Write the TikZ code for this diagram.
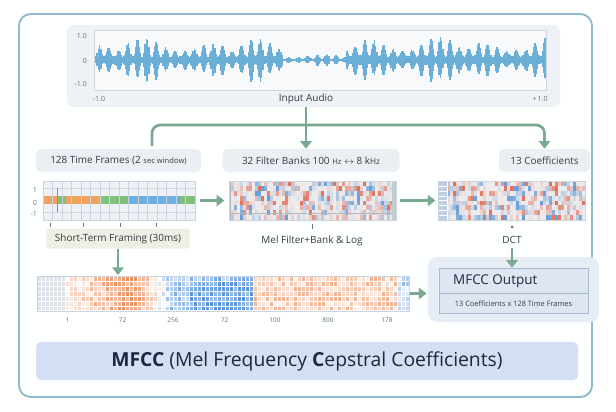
\documentclass[tikz,border=0pt]{standalone}
\usepackage{fontspec}
\setmainfont{Open Sans}
\usetikzlibrary{arrows.meta}

\definecolor{framerim}{HTML}{8FBACB}
\definecolor{panelgray}{HTML}{EEF1F5}
\definecolor{taggray}{HTML}{EBEEF3}
\definecolor{inkgray}{HTML}{353C47}
\definecolor{axisgray}{HTML}{6B737D}
\definecolor{gridgray}{HTML}{CDD4DD}
\definecolor{flowgreen}{HTML}{79AA91}
\definecolor{waveblue}{HTML}{6BAED6}
\definecolor{beige}{HTML}{EFEEE4}
\definecolor{titleblue}{HTML}{D5DFF3}
\definecolor{navy}{HTML}{1D2742}
\definecolor{bandorange}{HTML}{F2A25E}
\definecolor{bandgreen}{HTML}{80BE7C}
\definecolor{bandblue}{HTML}{6EB0E3}
\definecolor{heatred}{HTML}{DF5E45}
\definecolor{heatblue}{HTML}{4F8FD6}
\definecolor{heatbg}{HTML}{EDEBEC}
\definecolor{heatorange}{HTML}{EA8A55}
\definecolor{outfill}{HTML}{E7EDF4}
\definecolor{outbox}{HTML}{DEE6F1}
\definecolor{outrim}{HTML}{A7B9CF}

\begin{document}
\begin{tikzpicture}[x=0.03cm, y=-0.03cm, font=\fontsize{8.5}{10}\selectfont,
    sized/.style 2 args={minimum width=#1*\pxlen, minimum height=#2*\pxlen, inner sep=0pt},
    panel/.style={fill=panelgray, rounded corners=6pt},
    tag/.style={fill=taggray, rounded corners=5pt, text=inkgray},
    plotbox/.style={draw=gridgray, line width=0.4pt},
    flow/.style={draw=flowgreen, line width=2.3pt, -{Triangle[width=9.5pt,length=6.5pt]}},
    axnum/.style={font=\fontsize{6}{7}\selectfont, text=axisgray},
    wave/.style={draw=waveblue, line width=1.3pt}]
    \def\pxlen{0.03cm}

    \useasboundingbox[fill=white] (0,0) rectangle (616,411);
    \draw[framerim, line width=1.6pt, rounded corners=10pt, fill=white!97!panelgray] (19,14) rectangle (592,397);

    \begin{scope}
        \node[panel, sized={493}{82}] (audio) at (313.5,66) {};
        \node[sized={452}{60}, fill=white!60!panelgray, plotbox] (wave) at (320,60) {};
        \node[axnum, anchor=east] at (91,36) {1.0};
        \node[axnum, anchor=east] at (91,61) {0};
        \node[axnum, anchor=east] at (91,84) {-1.0};
        \node[axnum] at (99,99) {-1.0};
        \node[axnum] at (540,99) {+\,1.0};
        \node[text=inkgray] (input) at (306,99) {Input Audio};
        \pgfmathsetseed{42}
        \foreach \i in {0,...,374}{
            \pgfmathsetmacro\xx{96+1.2*\i}
            \pgfmathsetmacro\env{(\xx<283)*1+and(\xx>=283,\xx<346)*0.3+(\xx>=346)*1.05}
            \pgfmathsetmacro\pk{abs(sin(\xx*19))^3*(0.25+0.75*abs(sin(\xx*3.1)*sin(\xx*1.7+40)))}
            \pgfmathsetmacro\up{\env*(2.5+1.5*rnd+20*\pk)}
            \pgfmathsetmacro\dn{\up*(0.75+0.35*abs(sin(\xx*5.3)))}
            \draw[wave] (\xx,60-\up) -- (\xx,60+\dn);
        }
    \end{scope}

    \begin{scope}
        \node[tag, sized={165}{23}] (framesLbl) at (118.5,160.5) {128 Time Frames (2 {\fontsize{6.5}{8}\selectfont sec window)}};
        \node[tag, sized={177}{23}] (banksLbl) at (311,160.5) {32 Filter Banks 100 {\fontsize{6.5}{8}\selectfont Hz} $\leftrightarrow$ 8 k{\fontsize{7}{8}\selectfont Hz}};
        \node[tag, sized={91}{23}] (coefLbl) at (544.5,160.5) {13 Coefficients};
    \end{scope}

    \begin{scope}
        \node[sized={152}{39}, fill=panelgray] (frames) at (119,200.5) {};
        \fill[bandorange] (42.7,196) rectangle (57.3,204.3);
        \fill[bandgreen] (57.3,196) rectangle (66,204.3);
        \fill[bandorange] (66,196) rectangle (102,204.3);
        \fill[bandgreen] (102,196) rectangle (129.3,204.3);
        \fill[bandblue] (129.3,196) rectangle (180,204.3);
        \fill[bandgreen] (180,196) rectangle (195,204.3);
        \foreach \k in {0,...,16}
            \draw[gridgray, line width=0.3pt] (42.7+9.53*\k,181) -- (42.7+9.53*\k,220);
        \foreach \yy in {188,212}
            \draw[gridgray, line width=0.3pt] (42.7,\yy) -- (195,\yy);
        \draw[red!50!gridgray, line width=0.3pt] (57.3,188) -- (57.3,212);
        \draw[plotbox] (frames.north west) rectangle (frames.south east);
        \node[axnum, anchor=east] at (41,190) {1};
        \node[axnum, anchor=east] at (41,202.5) {0};
        \node[axnum, anchor=east] at (41,214) {-1};
        \foreach \tx in {50.7,83,120.7,156}
            \draw[axisgray, line width=0.4pt] (\tx,223) -- (\tx,227);
        \node[fill=beige, rounded corners=2pt, sized={143}{20}, text=inkgray] (framing) at (118,238.5) {Short-Term Framing (30ms)};
    \end{scope}

    \begin{scope}
        \node[sized={167}{39}] (mel) at (312.7,200.5) {};
        \foreach \c in {0,...,54}{
            \foreach \r in {0,...,7}{
                \pgfmathsetmacro\v{rand}
                \pgfmathtruncatemacro\p{min(85,95*abs(\v)^2.5)}
                \ifdim\v pt>0pt\def\hue{heatred}\else\def\hue{heatblue}\fi
                \fill[fill=\hue!\p!heatbg] (231+3*\c,181+4.875*\r) rectangle ++(3,4.875);
            }
        }
        \fill[gridgray!70!axisgray] (229.2,181) rectangle (231,220);
        \fill[gridgray!80!bandgreen] (392,181) rectangle (396,220);
        \draw[gridgray!70!axisgray, line width=0.3pt] (231,213) -- (392,213);
        \draw[plotbox] (mel.north west) rectangle (mel.south east);
        \draw[axisgray, line width=0.4pt] (312,224) -- (312,229);
        \node[text=inkgray] (melLbl) at (312,241) {Mel Filter+Bank \& Log};
    \end{scope}

    \begin{scope}
        \node[sized={147}{39}] (dct) at (511.5,200.5) {};
        \foreach \c in {0,...,45}{
            \foreach \r in {0,...,7}{
                \pgfmathsetmacro\v{rand}
                \pgfmathtruncatemacro\p{min(85,100*abs(\v)^2.3)}
                \ifdim\v pt>0pt\def\hue{heatred}\else\def\hue{heatblue}\fi
                \fill[fill=\hue!\p!heatbg] (447+3*\c,181+4.875*\r) rectangle ++(3,4.875);
            }
        }
        \foreach \r in {0,...,7}
            \fill[heatblue!30!heatbg, draw=white, line width=0.2pt] (438,181+4.875*\r) rectangle ++(9,4.875);
        \draw[plotbox] (dct.north west) rectangle (dct.south east);
        \fill[axisgray] (510.5,228) -- (513.5,228) -- (512,225) -- cycle;
        \node[text=inkgray] (dctLbl) at (512,240) {DCT};
    \end{scope}

    \begin{scope}
        \node[sized={372}{34}] (spec) at (223,293.5) {};
        \foreach \c in {0,...,6}{
            \foreach \r in {0,...,6}{
                \fill[fill=gridgray!70!white, draw=white, line width=0.2pt] (37+4*\c,276.5+4.86*\r) rectangle ++(4,4.86);
            }
        }
        \foreach \c in {0,...,85}{
            \foreach \r in {0,...,6}{
                \pgfmathsetmacro\xx{65+4*\c}
                \pgfmathsetmacro\h{(\xx<130)*(0.05+0.85*(\xx-65)/65)+and(\xx>=130,\xx<170)*(0.9-1.4*(\xx-130)/40)+and(\xx>=170,\xx<252)*(-0.5-0.35*(\r>0)*(\xx>185))+and(\xx>=252,\xx<394)*0.4+(\xx>=394)*(-0.35)}
                \pgfmathsetmacro\v{\h+0.3*rand}
                \pgfmathtruncatemacro\p{min(95,100*abs(\v))}
                \ifdim\v pt>0pt\def\hue{heatorange}\else\def\hue{heatblue}\fi
                \fill[fill=\hue!\p!white, draw=white, line width=0.2pt] (\xx,276.5+4.86*\r) rectangle ++(4,4.86);
            }
        }
        \draw[plotbox] (spec.north west) rectangle (spec.south east);
        \foreach \tx/\tl in {67.6/1, 122.6/72, 173/256, 224.7/72, 275/100, 328/800, 387/178}
            \node[axnum, font=\fontsize{5.5}{6}\selectfont] at (\tx,320) {\tl};
    \end{scope}

    \begin{scope}
        \node[fill=outfill, rounded corners=8pt, sized={171}{65}] (outPanel) at (513.5,289.5) {};
        \node[fill=outbox, draw=outrim, line width=0.5pt, sized={149}{45}] (outBox) at (513.5,290.5) {};
        \draw[outrim, line width=0.5pt] (outBox.west |- 0,293) -- (outBox.east |- 0,293);
        \node[anchor=west, text=navy, font=\fontsize{11.5}{13}\selectfont] (outTitle) at (449,281) {MFCC Output};
        \node[text=inkgray, font=\fontsize{6.3}{7}\selectfont] (outSize) at (513.5,303.5) {13 Coefficients x 128 Time Frames};
    \end{scope}

    \node[fill=titleblue, rounded corners=4pt, sized={542}{38}, text=navy, font=\fontsize{16.5}{19}\selectfont] (title) at (307,361) {\textbf{MFCC} (Mel Frequency \textbf{C}epstral Coefficients)};

    \coordinate (split) at (306,125);
    \coordinate (branchL) at (152,146);
    \draw[flow] (audio.south -| input) -- (banksLbl.north -| input);
    \draw[flow, -, rounded corners=7pt] (branchL) |- (split);
    \draw[flow, rounded corners=7pt] (split) -| (coefLbl.north);
    \draw[flow, shorten <=4pt, shorten >=4pt] (frames.east) -- (mel.west);
    \draw[flow, shorten <=3pt, shorten >=2pt] (mel.east) -- (dct.west);
    \draw[flow] (dctLbl.south) -- (dctLbl |- outBox.north);
    \draw[flow, shorten >=1pt] (framing.south) -- (framing.south |- spec.north);
    \draw[flow, shorten <=1pt, shorten >=1pt] (spec.east) -- (spec.east -| outPanel.west);
\end{tikzpicture}
\end{document}
